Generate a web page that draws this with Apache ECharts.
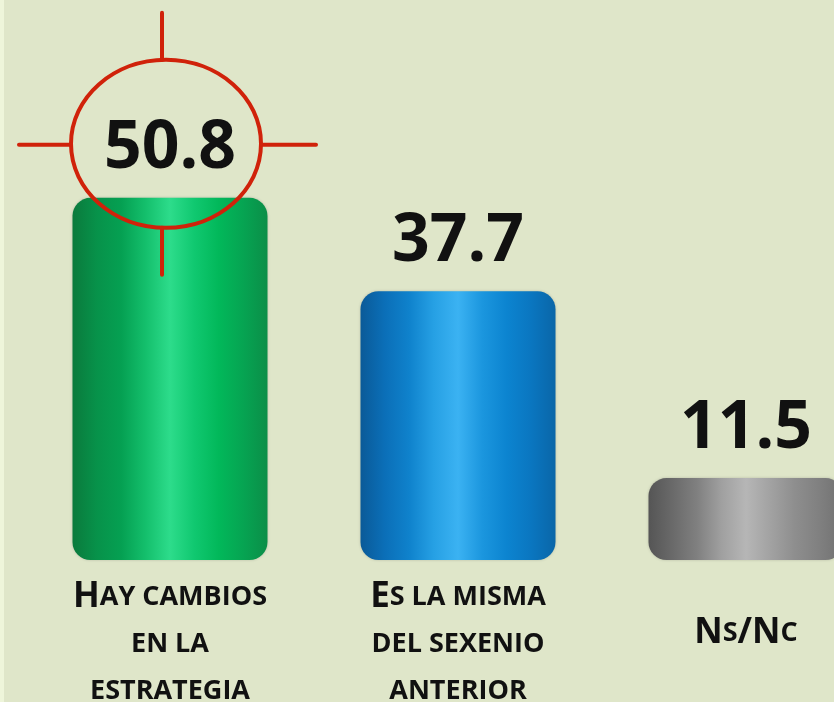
<!DOCTYPE html>
<html><head><meta charset="utf-8">
<script src="https://cdn.jsdelivr.net/npm/echarts@6/dist/echarts.min.js"></script>
<style>html,body{margin:0;padding:0;background:#dfe6c9;overflow:hidden;width:834px;height:702px}#c{width:890px;height:702px}</style>
</head><body><div id="c"></div>
<script>
const categories = ['Hay cambios en la estrategia', 'Es la misma del sexenio anterior', 'Ns/Nc'];
const values = [50.8, 37.7, 11.5];
const categoryLabels = [
  '{big|H}{sm|AY CAMBIOS}\n{sm|EN LA}\n{sm|ESTRATEGIA}',
  '{big|E}{sm|S LA MISMA}\n{sm|DEL SEXENIO}\n{sm|ANTERIOR}',
  '{gap| }\n{big|N}{sm|S}{big|/N}{sm|C}'
];

function grad(stops) {
  return new echarts.graphic.LinearGradient(0, 0, 1, 0, stops.map((c, i) => ({offset: i / (stops.length - 1), color: c})));
}
const barColors = [
  grad(['#0a7a3c', '#07924a', '#05a052', '#14bf6c', '#2ddc8b', '#10c870', '#02b85a', '#06a452', '#0b8e48']),
  grad(['#0a5a98', '#0b6fb8', '#0f82cc', '#26a0e4', '#3bb2f2', '#1b96de', '#0c84d0', '#0a76c0', '#0a66a8']),
  grad(['#555555', '#6a6a6a', '#808080', '#a0a0a0', '#b6b6b6', '#a2a2a2', '#8e8e8e', '#808080', '#707070'])
];

const chart = echarts.init(document.getElementById('c'));
const txt = {fontFamily: 'Open Sans', fontWeight: 'bold', color: '#111'};
chart.setOption({
  backgroundColor: '#dfe6c9',
  animation: false,
  grid: {left: 26, right: 0, top: 61, bottom: 142, containLabel: false, outerBoundsMode: 'none'},
  xAxis: {
    type: 'category', data: categories,
    axisLine: {show: false}, axisTick: {show: false}, splitLine: {show: false},
    axisLabel: {
      interval: 0, margin: 14,
      formatter: (v, i) => categoryLabels[i],
      rich: {
        big: Object.assign({fontSize: 35, lineHeight: 47}, txt),
        sm: Object.assign({fontSize: 27, lineHeight: 47}, txt),
        gap: {fontSize: 10, lineHeight: 36}
      }
    }
  },
  yAxis: {type: 'value', min: 0, max: 70, show: false},
  series: [{
    type: 'bar', barWidth: 195,
    data: values.map((v, i) => ({value: v, itemStyle: {color: barColors[i]}})),
    itemStyle: {borderRadius: 18, shadowColor: 'rgba(0,0,0,0.18)', shadowBlur: 3},
    label: {show: true, position: 'top', distance: 16, fontSize: 66, fontFamily: 'Open Sans', fontWeight: 'bold', color: '#111',
      formatter: p => p.value.toFixed(1)}
  }]
});

// target annotation around the first bar's value label
const top0 = chart.convertToPixel({seriesIndex: 0}, [0, values[0]]);
const cx = top0[0] - 4, cy = top0[1] - 54;
const red = {stroke: '#d0220a', lineWidth: 4, lineCap: 'round'};
chart.setOption({
  graphic: [
    {type: 'rect', shape: {x: 0, y: 0, width: 4, height: 702}, style: {fill: '#eef5da'}, z: 0},
    {type: 'ellipse', shape: {cx: cx, cy: cy, rx: 95, ry: 84}, style: Object.assign({fill: 'none'}, red), z: 100},
    {type: 'line', shape: {x1: cx - 4, y1: cy - 131, x2: cx - 4, y2: cy - 84}, style: red, z: 100},
    {type: 'line', shape: {x1: cx - 4, y1: cy + 84, x2: cx - 4, y2: cy + 131}, style: red, z: 100},
    {type: 'line', shape: {x1: cx - 147, y1: cy + 1, x2: cx - 95, y2: cy + 1}, style: red, z: 100},
    {type: 'line', shape: {x1: cx + 95, y1: cy + 1, x2: cx + 150, y2: cy + 1}, style: red, z: 100}
  ]
});
</script></body></html>
